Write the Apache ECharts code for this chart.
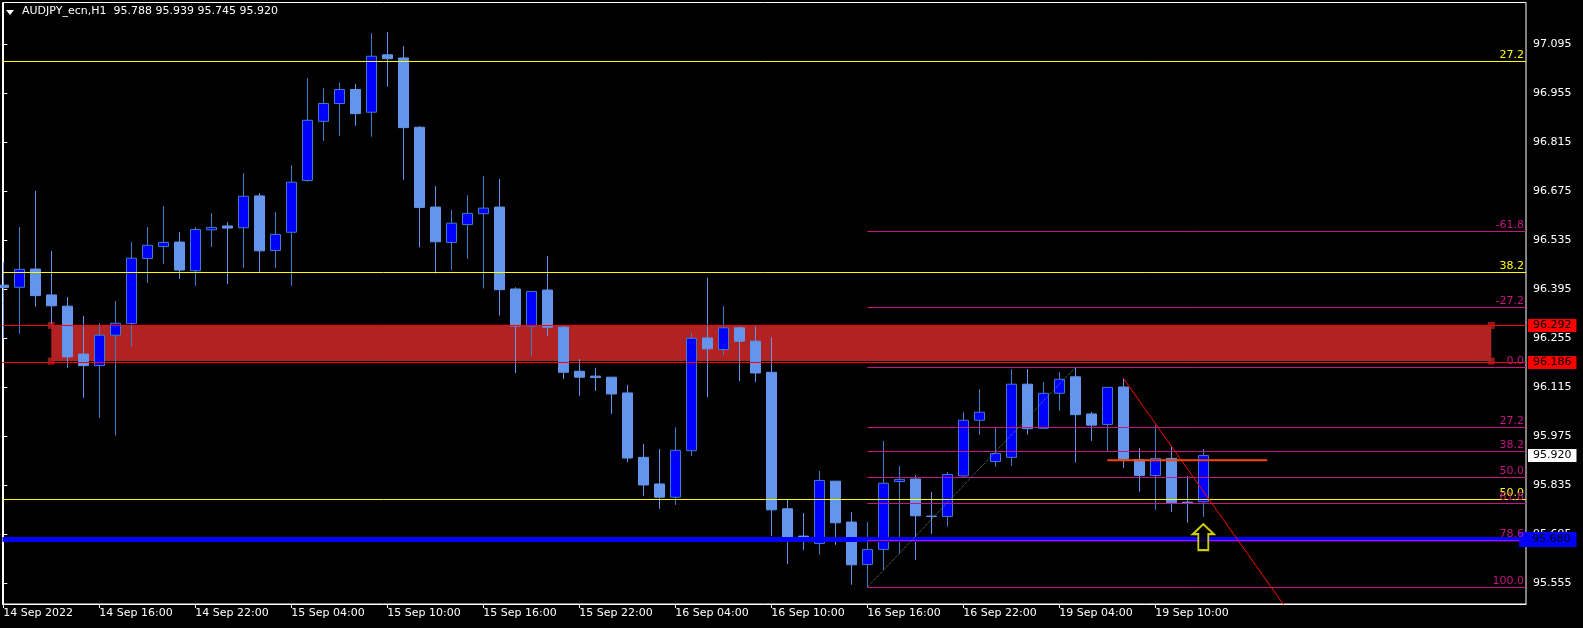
<!DOCTYPE html>
<html><head><meta charset="utf-8">
<script src="https://cdn.jsdelivr.net/npm/echarts@6/dist/echarts.min.js"></script>
<style>html,body{margin:0;padding:0;background:#000;}#c{width:1583px;height:628px;}</style>
</head><body><div id="c"></div>
<script>
// ---- data ----
const times = [
 '14 Sep 10:00','14 Sep 11:00','14 Sep 12:00','14 Sep 13:00','14 Sep 14:00','14 Sep 15:00','14 Sep 16:00','14 Sep 17:00','14 Sep 18:00','14 Sep 19:00','14 Sep 20:00','14 Sep 21:00','14 Sep 22:00','14 Sep 23:00',
 '15 Sep 00:00','15 Sep 01:00','15 Sep 02:00','15 Sep 03:00','15 Sep 04:00','15 Sep 05:00','15 Sep 06:00','15 Sep 07:00','15 Sep 08:00','15 Sep 09:00','15 Sep 10:00','15 Sep 11:00','15 Sep 12:00','15 Sep 13:00','15 Sep 14:00','15 Sep 15:00','15 Sep 16:00','15 Sep 17:00','15 Sep 18:00','15 Sep 19:00','15 Sep 20:00','15 Sep 21:00','15 Sep 22:00','15 Sep 23:00',
 '16 Sep 00:00','16 Sep 01:00','16 Sep 02:00','16 Sep 03:00','16 Sep 04:00','16 Sep 05:00','16 Sep 06:00','16 Sep 07:00','16 Sep 08:00','16 Sep 09:00','16 Sep 10:00','16 Sep 11:00','16 Sep 12:00','16 Sep 13:00','16 Sep 14:00','16 Sep 15:00','16 Sep 16:00','16 Sep 17:00','16 Sep 18:00','16 Sep 19:00','16 Sep 20:00','16 Sep 21:00','16 Sep 22:00','16 Sep 23:00',
 '19 Sep 00:00','19 Sep 01:00','19 Sep 02:00','19 Sep 03:00','19 Sep 04:00','19 Sep 05:00','19 Sep 06:00','19 Sep 07:00','19 Sep 08:00','19 Sep 09:00','19 Sep 10:00','19 Sep 11:00','19 Sep 12:00','19 Sep 13:00'
];
const opens = [96.407,96.401,96.453,96.379,96.347,96.210,96.177,96.264,96.297,96.483,96.517,96.530,96.448,96.565,96.576,96.571,96.662,96.506,96.558,96.706,
 96.875,96.926,96.966,96.901,97.065,97.056,96.858,96.630,96.529,96.580,96.611,96.630,96.396,96.290,96.393,96.287,96.161,96.147,96.144,96.099,
 95.915,95.839,95.801,95.934,96.256,96.223,96.285,96.247,96.158,95.768,95.690,95.669,95.847,95.730,95.609,95.652,95.846,95.853,95.747,95.746,
 95.862,96.021,95.903,95.915,96.124,95.998,96.098,96.145,96.039,96.009,96.116,95.909,95.863,95.912,95.787,95.788];
const highs = [96.472,96.573,96.676,96.504,96.373,96.319,96.299,96.362,96.530,96.573,96.633,96.559,96.573,96.613,96.587,96.727,96.670,96.616,96.750,96.999,
 96.970,96.985,96.982,97.127,97.130,97.090,96.861,96.690,96.622,96.664,96.719,96.710,96.401,96.389,96.490,96.292,96.196,96.171,96.144,96.122,
 95.953,95.939,96.001,96.271,96.428,96.347,96.289,96.289,96.258,95.794,95.756,95.876,95.847,95.759,95.730,95.962,95.890,95.865,95.816,95.873,
 96.045,96.110,96.000,96.167,96.167,96.130,96.159,96.172,96.045,96.115,96.141,95.941,96.007,95.945,95.862,95.939];
const lows = [96.255,96.268,96.345,96.296,96.171,96.085,96.028,95.977,96.231,96.413,96.467,96.425,96.405,96.516,96.410,96.456,96.444,96.456,96.405,96.702,
 96.819,96.833,96.862,96.831,96.974,96.708,96.515,96.440,96.450,96.482,96.397,96.320,96.156,96.205,96.261,96.139,96.091,96.105,96.039,95.901,
 95.804,95.768,95.779,95.919,96.087,96.207,96.133,96.130,95.690,95.610,95.650,95.637,95.665,95.551,95.544,95.593,95.641,95.622,95.696,95.717,
 95.858,95.979,95.888,95.891,95.980,95.998,96.048,95.900,95.962,95.933,95.885,95.817,95.765,95.759,95.728,95.745];
const closes = [96.400,96.452,96.377,96.348,96.202,96.177,96.264,96.298,96.484,96.521,96.529,96.450,96.566,96.572,96.570,96.661,96.505,96.552,96.701,96.878,
 96.926,96.966,96.897,97.061,97.054,96.857,96.629,96.531,96.584,96.612,96.627,96.394,96.290,96.389,96.287,96.158,96.144,96.143,96.096,95.913,
 95.836,95.801,95.935,96.255,96.225,96.285,96.247,96.156,95.765,95.683,95.676,95.849,95.728,95.608,95.652,95.841,95.852,95.748,95.746,95.866,
 96.021,96.044,95.926,96.124,95.997,96.098,96.138,96.037,96.007,96.115,95.910,95.863,95.912,95.785,95.784,95.920];

const xTickIndex = [0,6,12,18,24,30,36,42,48,54,60,66,72];
const xTickLabels = ['14 Sep 2022','14 Sep 16:00','14 Sep 22:00','15 Sep 04:00','15 Sep 10:00','15 Sep 16:00','15 Sep 22:00',
 '16 Sep 04:00','16 Sep 10:00','16 Sep 16:00','16 Sep 22:00','19 Sep 04:00','19 Sep 10:00'];
const yTicks = [97.095,96.955,96.815,96.675,96.535,96.395,96.255,96.115,95.975,95.835,95.695,95.555];

const headerSymbol = 'AUDJPY_ecn,H1';
const headerOHLC = ['95.788','95.939','95.745','95.920'];

const yellowFibLevels = ['27.2','38.2','50.0'];
const yellowFibPrices = [97.046,96.444,95.795];
const fibLevels = ['-61.8','-27.2','0.0','27.2','38.2','50.0','61.8','78.6','100.0'];
const fibPrices = [96.560,96.343,96.172,96.001,95.932,95.858,95.784,95.678,95.544];
const fibStartIndex = 54;

const zonePrices = [96.292,96.190];
const zoneIndex = [3,93];
const redLevels = [96.292,96.186];
const supportLevel = 95.680;
const bidPrice = 95.920;
const orangeLine = [[69,95.907],[79,95.907]];
const redTrend = [[70,96.141],[82,95.366]];
const fibTrend = [[54,95.544],[67,96.172]];
const arrowPoint = [75,95.687];

// ---- chart ----
const FONT = 'DejaVu Sans';
const X_MIN = -0.05, X_MAX = 95.169;
const chart = echarts.init(document.getElementById('c'), null, {renderer:'canvas'});
const candles = opens.map((o,i)=>[i,o,closes[i],lows[i],highs[i]]);

const boxLabel = (txt,bg,fg,pad,dist)=>({show:true,position:'end',formatter:txt,backgroundColor:bg,color:fg,
  fontFamily:FONT,fontSize:11,lineHeight:13,padding:pad,distance:dist});

const fullLines = [];
yellowFibPrices.forEach((p,i)=>fullLines.push({yAxis:p,lineStyle:{color:'#FFFF00',width:1,type:'solid'},
  label:{show:true,position:'insideEndTop',formatter:yellowFibLevels[i],color:'#FFFF00',fontFamily:FONT,fontSize:11,distance:[2,1]}}));
fullLines.push({yAxis:redLevels[0],lineStyle:{color:'#FF0000',width:1,type:'solid'},label:boxLabel(redLevels[0].toFixed(3),'#FF0000','#000',[0,5,0,5],2)});
fullLines.push({yAxis:redLevels[1],lineStyle:{color:'#FF0000',width:1,type:'solid'},label:boxLabel(redLevels[1].toFixed(3),'#FF0000','#000',[0,5,0,5],2)});
fullLines.push({yAxis:supportLevel,lineStyle:{color:'#0000FF',width:5,type:'solid'},label:boxLabel(supportLevel.toFixed(3),'#0000FF','#000',[1,6,1,13],-7)});
fullLines.push({yAxis:bidPrice,lineStyle:{color:'rgba(0,0,0,0)',width:1,type:'solid'},label:boxLabel(bidPrice.toFixed(3),'#FFFFFF','#000',[0,5,0,5],2)});

const fibLines = fibPrices.map((p,i)=>[
  {coord:[fibStartIndex,p],lineStyle:{color:'#C71585',width:1,type:'solid'},
   label:{show:true,position:'insideEndTop',formatter:fibLevels[i],color:'#C71585',fontFamily:FONT,fontSize:11,distance:[2,1]}},
  {coord:[X_MAX,p]}]);

const option = {
  backgroundColor:'#000',
  animation:false,
  grid:{left:2.5,top:2.5,width:1523.5,height:601.5,show:true,borderColor:'#FFFFFF',borderWidth:1,backgroundColor:'#000'},
  xAxis:{type:'value',min:X_MIN,max:X_MAX,
    axisLine:{show:true,lineStyle:{color:'#FFFFFF',width:1}},
    axisTick:{show:true,length:4,customValues:xTickIndex,lineStyle:{color:'#FFFFFF'}},
    axisLabel:{show:true,customValues:xTickIndex,align:'left',margin:4,color:'#FFFFFF',fontFamily:FONT,fontSize:11,
      formatter:v=>xTickLabels[xTickIndex.indexOf(Math.round(v))] || ''},
    splitLine:{show:false}},
  yAxis:{type:'value',position:'right',min:95.496,max:97.2145,scale:true,
    axisLine:{show:true,lineStyle:{color:'#FFFFFF',width:1}},
    axisTick:{show:true,length:4,customValues:yTicks,lineStyle:{color:'#FFFFFF'}},
    axisLabel:{show:true,customValues:yTicks,margin:7,color:'#FFFFFF',fontFamily:FONT,fontSize:11,formatter:v=>v.toFixed(3)},
    splitLine:{show:false}},
  graphic:[
    {type:'polygon',shape:{points:[[6,10],[14,10],[10,15]]},style:{fill:'#FFFFFF'}},
    {type:'text',left:22,top:6,style:{text:headerSymbol+'  '+headerOHLC.join(' '),fill:'#FFFFFF',font:'11px "DejaVu Sans"'}}
  ],
  series:[
    {type:'line',data:[],z:1,silent:true,
     markArea:{silent:true,itemStyle:{color:'#B22222'},
       data:[[{coord:[zoneIndex[0],zonePrices[0]]},{coord:[zoneIndex[1],zonePrices[1]]}]]}},
    {type:'scatter',z:2,silent:true,symbol:'rect',symbolSize:7,itemStyle:{color:'#B22222'},
     data:[[zoneIndex[0],zonePrices[0]],[zoneIndex[0],zonePrices[1]],[zoneIndex[1],zonePrices[0]],[zoneIndex[1],zonePrices[1]]]},
    {type:'candlestick',z:3,barWidth:10,encode:{x:0,y:[1,2,3,4]},data:candles,clip:true,
     itemStyle:{color:'#0000FF',borderColor:'#3F7CC8',color0:'#6495ED',borderColor0:'#6495ED',borderWidth:1}},
    {type:'line',data:[],z:4,silent:true,
     markLine:{silent:true,symbol:'none',precision:3,data:fullLines}},
    {type:'line',data:[],z:4,silent:true,
     markLine:{silent:true,symbol:'none',precision:3,data:fibLines}},
    {type:'line',z:5,data:fibTrend,symbol:'none',clip:true,lineStyle:{color:'#6A8585',width:1,type:'dotted'}},
    {type:'line',z:5,data:redTrend,symbol:'none',clip:true,lineStyle:{color:'#FF0000',width:1}},
    {type:'line',z:5,data:orangeLine,symbol:'none',clip:true,lineStyle:{color:'#FF4500',width:2}},
    {type:'scatter',z:6,silent:true,data:[arrowPoint],
     symbol:'path://M10.5,0 L21,10 L15.5,10 L15.5,26 L5.5,26 L5.5,10 L0,10 Z',symbolSize:[21,26],
     itemStyle:{color:'#000',borderColor:'#FFFF00',borderWidth:2}}
  ]
};
chart.setOption(option);
</script></body></html>
